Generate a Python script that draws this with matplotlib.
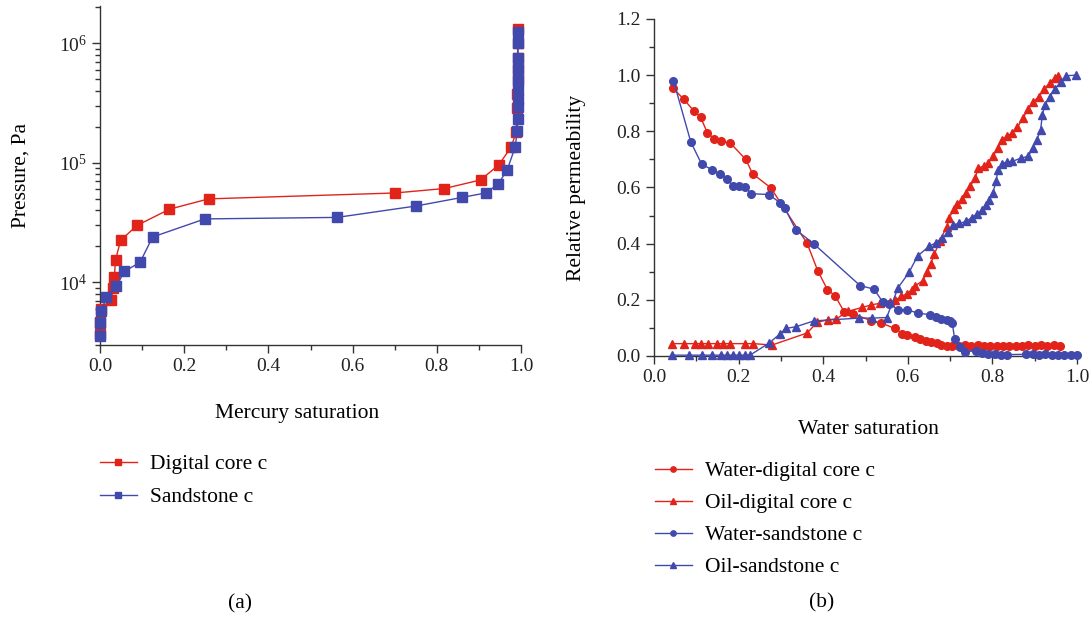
import matplotlib
matplotlib.use('Agg')
import matplotlib.pyplot as plt
from matplotlib.ticker import MultipleLocator, LogLocator, FormatStrFormatter

plt.rcParams['font.family'] = ['Liberation Serif', 'DejaVu Serif']
plt.rcParams['mathtext.fontset'] = 'custom'
plt.rcParams['mathtext.rm'] = 'Liberation Serif'
plt.rcParams['mathtext.it'] = 'Liberation Serif:italic'

RED  = '#e2231a'
BLUE = '#4149ad'
AXC  = '#333333'
FS_TICK  = 14
FS_LABEL = 15.5

# ---------------------------------------------------------------------------
# (a) mercury injection capillary pressure
# ---------------------------------------------------------------------------
hg_sat_digital = [0.0, 0.0, 0.002, 0.027, 0.031, 0.034, 0.037, 0.049, 0.088,
                  0.165, 0.258, 0.700, 0.818, 0.904, 0.947, 0.977, 0.988,
                  0.991, 0.991, 0.992, 0.993, 0.992, 0.992, 0.993]
p_digital      = [3.7e3, 4.65e3, 6.0e3, 7.2e3, 9.0e3, 1.11e4, 1.55e4, 2.25e4,
                  3.0e4, 4.1e4, 5.0e4, 5.6e4, 6.1e4, 7.2e4, 9.6e4, 1.36e5,
                  1.8e5, 2.9e5, 3.8e5, 4.9e5, 6.05e5, 7.6e5, 1.0e6, 1.31e6]

hg_sat_sand    = [0.0, 0.0, 0.003, 0.015, 0.039, 0.058, 0.095, 0.125, 0.249,
                  0.563, 0.751, 0.861, 0.916, 0.945, 0.967, 0.986, 0.991,
                  0.992, 0.992, 0.993, 0.993, 0.993, 0.993, 0.993, 0.993,
                  0.994]
p_sand         = [3.6e3, 4.6e3, 5.75e3, 7.5e3, 9.3e3, 1.24e4, 1.47e4, 2.4e4,
                  3.4e4, 3.5e4, 4.36e4, 5.15e4, 5.6e4, 6.6e4, 8.7e4, 1.35e5,
                  1.84e5, 2.34e5, 2.91e5, 3.42e5, 4.06e5, 4.9e5, 6.05e5,
                  7.6e5, 1.0e6, 1.25e6]

# ---------------------------------------------------------------------------
# (b) relative permeability curves
# ---------------------------------------------------------------------------
sw_water_digital = [0.044, 0.070, 0.094, 0.110, 0.126, 0.142, 0.159, 0.180,
                    0.217, 0.233, 0.276, 0.362, 0.387, 0.410, 0.428, 0.450,
                    0.470, 0.514, 0.537, 0.569, 0.587, 0.598, 0.618, 0.629,
                    0.642, 0.654, 0.668, 0.679, 0.692, 0.705, 0.720, 0.735,
                    0.750, 0.765, 0.780, 0.795, 0.810, 0.825, 0.840, 0.855,
                    0.870, 0.885, 0.900, 0.915, 0.930, 0.945, 0.960]
kr_water_digital = [0.955, 0.915, 0.873, 0.851, 0.795, 0.774, 0.764, 0.759,
                    0.700, 0.649, 0.599, 0.401, 0.304, 0.236, 0.215, 0.156,
                    0.151, 0.125, 0.118, 0.098, 0.080, 0.073, 0.066, 0.059,
                    0.054, 0.051, 0.047, 0.040, 0.036, 0.035, 0.037, 0.038,
                    0.036, 0.038, 0.035, 0.036, 0.034, 0.035, 0.036, 0.037,
                    0.036, 0.038, 0.037, 0.038, 0.037, 0.038, 0.037]

sw_oil_digital = [0.043, 0.071, 0.096, 0.111, 0.127, 0.148, 0.162, 0.180,
                  0.216, 0.235, 0.279, 0.362, 0.386, 0.411, 0.431, 0.458,
                  0.492, 0.514, 0.535, 0.559, 0.569, 0.585, 0.597, 0.609,
                  0.617, 0.635, 0.646, 0.654, 0.663, 0.675, 0.692, 0.698,
                  0.709, 0.717, 0.728, 0.738, 0.748, 0.759, 0.767, 0.780,
                  0.790, 0.801, 0.813, 0.822, 0.834, 0.847, 0.859, 0.872,
                  0.885, 0.897, 0.910, 0.922, 0.935, 0.947, 0.956]
kr_oil_digital = [0.044, 0.044, 0.044, 0.044, 0.044, 0.044, 0.044, 0.044,
                  0.044, 0.044, 0.039, 0.082, 0.120, 0.129, 0.132, 0.159,
                  0.173, 0.182, 0.188, 0.192, 0.198, 0.212, 0.221, 0.235,
                  0.249, 0.268, 0.298, 0.328, 0.363, 0.408, 0.460, 0.493,
                  0.522, 0.540, 0.558, 0.581, 0.605, 0.634, 0.670, 0.676,
                  0.688, 0.711, 0.741, 0.770, 0.782, 0.794, 0.814, 0.847,
                  0.880, 0.906, 0.923, 0.950, 0.971, 0.991, 0.998]

sw_water_sand = [0.046, 0.087, 0.113, 0.137, 0.156, 0.173, 0.186, 0.201,
                 0.215, 0.230, 0.271, 0.299, 0.309, 0.335, 0.378, 0.487,
                 0.520, 0.541, 0.556, 0.577, 0.598, 0.623, 0.653, 0.667,
                 0.679, 0.692, 0.700, 0.705, 0.711, 0.724, 0.735, 0.762,
                 0.776, 0.790, 0.805, 0.820, 0.835, 0.880, 0.895, 0.910,
                 0.925, 0.940, 0.955, 0.970, 0.985, 1.0]
kr_water_sand = [0.981, 0.762, 0.682, 0.664, 0.649, 0.632, 0.605, 0.604,
                 0.601, 0.578, 0.575, 0.545, 0.528, 0.450, 0.399, 0.251,
                 0.238, 0.192, 0.186, 0.165, 0.165, 0.153, 0.147, 0.139,
                 0.130, 0.127, 0.124, 0.118, 0.059, 0.033, 0.015, 0.019,
                 0.009, 0.007, 0.006, 0.005, 0.005, 0.006, 0.006, 0.005,
                 0.006, 0.005, 0.005, 0.004, 0.004, 0.004]

sw_oil_sand = [0.043, 0.083, 0.113, 0.138, 0.158, 0.172, 0.186, 0.202,
               0.216, 0.227, 0.271, 0.299, 0.311, 0.335, 0.378, 0.485,
               0.516, 0.550, 0.577, 0.603, 0.623, 0.650, 0.667, 0.681,
               0.696, 0.706, 0.721, 0.738, 0.751, 0.763, 0.776, 0.784,
               0.792, 0.801, 0.809, 0.813, 0.822, 0.834, 0.847, 0.868,
               0.885, 0.895, 0.905, 0.914, 0.918, 0.924, 0.935, 0.947,
               0.962, 0.974, 0.998]
kr_oil_sand = [0.003, 0.003, 0.003, 0.003, 0.003, 0.003, 0.003, 0.003,
               0.003, 0.003, 0.045, 0.080, 0.098, 0.104, 0.125, 0.135,
               0.135, 0.137, 0.243, 0.298, 0.356, 0.390, 0.404, 0.420,
               0.440, 0.467, 0.472, 0.479, 0.493, 0.505, 0.519, 0.538,
               0.554, 0.581, 0.623, 0.664, 0.684, 0.691, 0.693, 0.705,
               0.711, 0.741, 0.770, 0.805, 0.858, 0.894, 0.923, 0.950,
               0.976, 0.998, 1.0]


def style_axes(ax):
    for side in ('top', 'right'):
        ax.spines[side].set_visible(False)
    for side in ('left', 'bottom'):
        ax.spines[side].set_color(AXC)
        ax.spines[side].set_linewidth(1.0)
    ax.tick_params(which='both', direction='out', colors=AXC,
                   labelcolor='#222222', labelsize=FS_TICK, width=1.0)
    ax.tick_params(which='major', length=6)
    ax.tick_params(which='minor', length=3.5)


fig = plt.figure(figsize=(10.92, 6.2), dpi=100)

# -- panel (a) --------------------------------------------------------------
ax1 = fig.add_axes([100 / 1092, 1 - 345 / 620, 421 / 1092, 339 / 620])
ax1.plot(hg_sat_digital, p_digital, '-s', color=RED, lw=1.0, ms=6.5,
         mec=RED, label='Digital core c', clip_on=False, zorder=3)
ax1.plot(hg_sat_sand, p_sand, '-s', color=BLUE, lw=1.0, ms=6.5,
         mec=BLUE, label='Sandstone c', clip_on=False, zorder=4)
ax1.set_yscale('log')
ax1.set_xlim(0, 1.0)
ax1.set_ylim(3.0e3, 2.05e6)
ax1.xaxis.set_major_locator(MultipleLocator(0.2))
ax1.xaxis.set_minor_locator(MultipleLocator(0.1))
ax1.yaxis.set_major_locator(LogLocator(base=10, numticks=10))
ax1.yaxis.set_minor_locator(LogLocator(base=10, subs=range(2, 10), numticks=20))
style_axes(ax1)
ax1.set_xlabel('Mercury saturation', fontsize=FS_LABEL)
ax1.set_ylabel('Pressure, Pa', fontsize=FS_LABEL)
ax1.xaxis.set_label_coords(0.468, -0.174)
ax1.yaxis.set_label_coords(-0.166, 0.5)

# -- panel (b) --------------------------------------------------------------
ax2 = fig.add_axes([654 / 1092, 1 - 356 / 620, 423 / 1092, 337 / 620])
ax2.plot(sw_water_digital, kr_water_digital, '-o', color=RED, lw=1.0, ms=5.5,
         label='Water-digital core c', clip_on=False, zorder=3)
ax2.plot(sw_oil_digital, kr_oil_digital, '-^', color=RED, lw=1.0, ms=6,
         label='Oil-digital core c', clip_on=False, zorder=3)
ax2.plot(sw_water_sand, kr_water_sand, '-o', color=BLUE, lw=1.0, ms=5.5,
         label='Water-sandstone c', clip_on=False, zorder=4)
ax2.plot(sw_oil_sand, kr_oil_sand, '-^', color=BLUE, lw=1.0, ms=5.5,
         label='Oil-sandstone c', clip_on=False, zorder=4)
ax2.set_xlim(0, 1.0)
ax2.set_ylim(0, 1.2)
ax2.xaxis.set_major_locator(MultipleLocator(0.2))
ax2.xaxis.set_minor_locator(MultipleLocator(0.1))
ax2.yaxis.set_major_locator(MultipleLocator(0.2))
ax2.yaxis.set_minor_locator(MultipleLocator(0.1))
ax2.xaxis.set_major_formatter(FormatStrFormatter('%.1f'))
ax2.yaxis.set_major_formatter(FormatStrFormatter('%.1f'))
style_axes(ax2)
ax2.set_xlabel('Water saturation', fontsize=FS_LABEL)
ax2.set_ylabel('Relative permeability', fontsize=FS_LABEL)
ax2.xaxis.set_label_coords(0.506, -0.19)
ax2.yaxis.set_label_coords(-0.161, 0.5)

# legends below each panel
leg_kw = dict(loc='upper left', frameon=False, fontsize=FS_LABEL,
              borderpad=0, borderaxespad=0, handlelength=1.7,
              handletextpad=0.62, markerscale=0.7)
h1, l1 = ax1.get_legend_handles_labels()
fig.legend(h1, l1, bbox_to_anchor=(100 / 1092, 1 - 454 / 620),
           labelspacing=0.6, **leg_kw)
h2, l2 = ax2.get_legend_handles_labels()
fig.legend(h2, l2, bbox_to_anchor=(655 / 1092, 1 - 461 / 620),
           labelspacing=0.56, **leg_kw)

fig.text(240 / 1092, 1 - 604 / 620, '(a)', fontsize=FS_LABEL,
         ha='center', va='center')
fig.text(822 / 1092, 1 - 603 / 620, '(b)', fontsize=FS_LABEL,
         ha='center', va='center')

fig.savefig('out.png', dpi=100)
